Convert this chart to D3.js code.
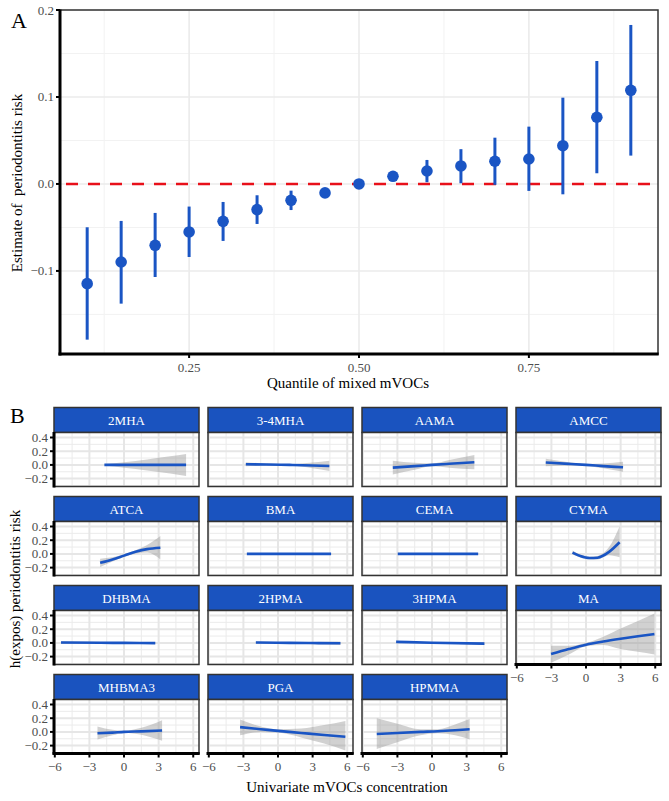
<!DOCTYPE html>
<html><head><meta charset="utf-8">
<script src="https://cdn.jsdelivr.net/npm/d3@7"></script>
<style>
body{margin:0;background:#fff;}
svg{display:block;font-family:"Liberation Serif","Times New Roman",serif;}
</style></head>
<body><svg id="chart" width="669" height="801"></svg>
<script>
// ---------- Panel A data ----------
const quantiles = [0.10,0.15,0.20,0.25,0.30,0.35,0.40,0.45,0.50,0.55,0.60,0.65,0.70,0.75,0.80,0.85,0.90];
const estimates = [-0.1146,-0.0897,-0.0705,-0.0552,-0.0430,-0.0295,-0.0188,-0.0103,0.0000,0.0088,0.0149,0.0207,0.0261,0.0287,0.0440,0.0767,0.1077];
const lowerCI   = [-0.1790,-0.1376,-0.1070,-0.0840,-0.0655,-0.0460,-0.0300,-0.0120,-0.0010,0.0070,0.0020,0.0008,-0.0010,-0.0080,-0.0119,0.0123,0.0326];
const upperCI   = [-0.0498,-0.0425,-0.0333,-0.0260,-0.0207,-0.0130,-0.0077,-0.0085,0.0010,0.0106,0.0276,0.0400,0.0532,0.0659,0.0992,0.1414,0.1828];
const xTicksA = [0.25,0.50,0.75];
const xTickLabelsA = ["0.25","0.50","0.75"];
const yTicksA = [-0.1,0.0,0.1,0.2];
const yTickLabelsA = ["\u22120.1","0.0","0.1","0.2"];

// ---------- Panel B data ----------
const facetNames = ["2MHA","3-4MHA","AAMA","AMCC","ATCA","BMA","CEMA","CYMA","DHBMA","2HPMA","3HPMA","MA","MHBMA3","PGA","HPMMA"];
const facetX = [
  [-1.70,0,2,4,5.38],
  [-2.79,-1,1,3,4.45],
  [-3.40,-1.5,0,1.5,3.67],
  [-3.49,-1.5,0,1.5,3.21],
  [-2.07,-1,0,1,2,3.15],
  [-2.70,4.60],
  [-2.97,4.00],
  [-1.17,-0.5,0.3,1,2,2.91],
  [-5.46,-2,0,2.71],
  [-1.92,1,3,5.41],
  [-3.11,0,4.54],
  [-3.03,-1.5,0,1.5,3,4.5,5.93],
  [-2.30,-1,0,1.5,3.30],
  [-3.29,-1.5,0,2,4,5.84],
  [-4.79,-3,-1,0.5,2,3.26]
];
const facetFit = [
  [0,0,0,0,0],
  [0.010,0.005,0,-0.008,-0.015],
  [-0.040,-0.018,0,0.017,0.040],
  [0.035,0.015,0,-0.017,-0.035],
  [-0.130,-0.080,-0.025,0.030,0.070,0.090],
  [0,0],
  [0,0],
  [0.020,-0.030,-0.060,-0.055,0.030,0.170],
  [0.005,0.002,0,-0.003],
  [0.005,0,-0.002,-0.006],
  [0.015,0.003,-0.010],
  [-0.163,-0.090,-0.026,0.020,0.060,0.097,0.128],
  [-0.020,-0.010,0,0.008,0.020],
  [0.070,0.040,0.015,-0.015,-0.045,-0.070],
  [-0.030,-0.015,0,0.010,0.025,0.040]
];
const facetLo = [
  [-0.010,-0.040,-0.080,-0.125,-0.160],
  [-0.020,-0.010,-0.010,-0.050,-0.090],
  [-0.140,-0.070,-0.020,-0.040,-0.065],
  [-0.020,-0.010,-0.015,-0.050,-0.100],
  [-0.190,-0.110,-0.045,0.005,0.020,-0.080],
  [-0.008,-0.008],
  [-0.008,-0.008],
  [-0.010,-0.050,-0.080,-0.080,-0.020,-0.050],
  [-0.015,-0.010,-0.010,-0.015],
  [-0.010,-0.010,-0.020,-0.030],
  [0.000,-0.005,-0.030],
  [-0.290,-0.170,-0.050,-0.030,-0.090,-0.130,-0.170],
  [-0.110,-0.050,-0.015,-0.040,-0.130],
  [-0.050,0.000,-0.010,-0.080,-0.170,-0.270],
  [-0.250,-0.150,-0.050,-0.020,-0.050,-0.110]
];
const facetHi = [
  [0.010,0.040,0.080,0.125,0.160],
  [0.040,0.020,0.010,0.035,0.060],
  [0.060,0.030,0.020,0.070,0.145],
  [0.090,0.040,0.015,0.020,0.045],
  [-0.070,-0.050,-0.005,0.055,0.130,0.260],
  [0.008,0.008],
  [0.008,0.008],
  [0.050,-0.010,-0.040,-0.030,0.100,0.400],
  [0.025,0.012,0.010,0.010],
  [0.020,0.010,0.015,0.020],
  [0.030,0.010,0.010],
  [-0.040,-0.040,0.000,0.090,0.210,0.320,0.430],
  [0.080,0.030,0.015,0.060,0.170],
  [0.180,0.080,0.040,0.050,0.100,0.160],
  [0.200,0.120,0.040,0.040,0.110,0.190]
];
const xTicksB = [-6,-3,0,3,6];
const xTickLabelsB = ["\u22126","\u22123","0","3","6"];
const yTicksB = [-0.2,0.0,0.2,0.4];
const yTickLabelsB = ["\u22120.2","0.0","0.2","0.4"];

// ---------- styles ----------
const BLUE = "#1a55c4";
const STRIP = "#1a53bf";
const GRID = "#ebebeb";
const TICKTXT = "#4d4d4d";

const svg = d3.select("#chart");

// ================= Panel A =================
const A = {l:60, r:658, t:10, b:354};
const xA = d3.scaleLinear().domain([0.06,0.94]).range([A.l,A.r]);
const yA = d3.scaleLinear().domain([-0.1955,0.2]).range([A.b,A.t]);
const gA = svg.append("g");

// minor grid
const xMinorA = [0.125,0.375,0.625,0.875];
const yMinorA = [-0.15,-0.05,0.05,0.15];
gA.selectAll(".vxm").data(xMinorA).join("line")
  .attr("x1",d=>xA(d)).attr("x2",d=>xA(d)).attr("y1",A.t).attr("y2",A.b)
  .attr("stroke","#f2f2f2").attr("stroke-width",1);
gA.selectAll(".hym").data(yMinorA).join("line")
  .attr("x1",A.l).attr("x2",A.r).attr("y1",d=>yA(d)).attr("y2",d=>yA(d))
  .attr("stroke","#f2f2f2").attr("stroke-width",1);
gA.selectAll(".vx").data(xTicksA).join("line")
  .attr("x1",d=>xA(d)).attr("x2",d=>xA(d)).attr("y1",A.t).attr("y2",A.b)
  .attr("stroke",GRID).attr("stroke-width",1.6);
gA.selectAll(".hy").data(yTicksA).join("line")
  .attr("x1",A.l).attr("x2",A.r).attr("y1",d=>yA(d)).attr("y2",d=>yA(d))
  .attr("stroke",GRID).attr("stroke-width",1.6);

// reference line
gA.append("line").attr("x1",A.l).attr("x2",A.r).attr("y1",yA(0)).attr("y2",yA(0))
  .attr("stroke","#e8101a").attr("stroke-width",2.6).attr("stroke-dasharray","12,10")
  .attr("stroke-dashoffset",-6);

// error bars + points
gA.selectAll(".err").data(quantiles).join("line")
  .attr("x1",d=>xA(d)).attr("x2",d=>xA(d))
  .attr("y1",(d,i)=>yA(lowerCI[i])).attr("y2",(d,i)=>yA(upperCI[i]))
  .attr("stroke",BLUE).attr("stroke-width",3);
gA.selectAll(".pt").data(quantiles).join("circle")
  .attr("cx",d=>xA(d)).attr("cy",(d,i)=>yA(estimates[i])).attr("r",5.8)
  .attr("fill",BLUE);

// border
gA.append("rect").attr("x",A.l).attr("y",A.t).attr("width",A.r-A.l).attr("height",A.b-A.t)
  .attr("fill","none").attr("stroke","#333").attr("stroke-width",1.5);
// axis lines
gA.append("line").attr("x1",A.l).attr("x2",A.l).attr("y1",A.t-0.5).attr("y2",A.b+1.5).attr("stroke","#000").attr("stroke-width",3);
gA.append("line").attr("x1",A.l-1.5).attr("x2",A.r+0.7).attr("y1",A.b).attr("y2",A.b).attr("stroke","#000").attr("stroke-width",3);

// ticks
gA.selectAll(".yt").data(yTicksA).join("line")
  .attr("x1",A.l-4).attr("x2",A.l).attr("y1",d=>yA(d)).attr("y2",d=>yA(d)).attr("stroke","#000").attr("stroke-width",2);
gA.selectAll(".ytl").data(yTicksA).join("text")
  .attr("x",A.l-6).attr("y",d=>yA(d)+4.5).attr("text-anchor","end")
  .attr("font-size",13).attr("fill",TICKTXT).text((d,i)=>yTickLabelsA[i]);
gA.selectAll(".xt").data(xTicksA).join("line")
  .attr("x1",d=>xA(d)).attr("x2",d=>xA(d)).attr("y1",A.b).attr("y2",A.b+4).attr("stroke","#000").attr("stroke-width",2);
gA.selectAll(".xtl").data(xTicksA).join("text")
  .attr("x",d=>xA(d)).attr("y",A.b+18).attr("text-anchor","middle")
  .attr("font-size",13).attr("fill",TICKTXT).text((d,i)=>xTickLabelsA[i]);

// titles
svg.append("text").attr("x",348).attr("y",388).attr("text-anchor","middle")
  .attr("font-size",15).attr("fill","#000").text("Quantile of mixed mVOCs");
svg.append("text").attr("transform","translate(22,183) rotate(-90)").attr("text-anchor","middle")
  .attr("font-size",15).attr("fill","#000").attr("xml:space","preserve").style("white-space","pre")
  .text("Estimate of  periodontitis risk");
svg.append("text").attr("x",11).attr("y",28).attr("font-size",22).attr("fill","#000").text("A");
svg.append("text").attr("x",10).attr("y",423).attr("font-size",22).attr("fill","#000").text("B");

// ================= Panel B =================
const colLeft = [54,208,362,516];
const rowTop = [407.5,496.5,585.5,674.5];
const PW = 145, SH = 25, PH = 54;
const xB = d3.scaleLinear().domain([-6.07,6.5]).range([0,PW]);
const yB = d3.scaleLinear().domain([-0.315,0.473]).range([PH,0]);
const xMinorB = [-4.5,-1.5,1.5,4.5];
const yMinorB = [-0.3,-0.1,0.1,0.3];

const defs = svg.append("defs");
defs.append("clipPath").attr("id","pclip").append("rect").attr("x",0).attr("y",0).attr("width",PW).attr("height",PH);

const area = d3.area().x(d=>xB(d.x)).y0(d=>yB(d.lo)).y1(d=>yB(d.hi)).curve(d3.curveMonotoneX);
const line = d3.line().x(d=>xB(d.x)).y(d=>yB(d.y)).curve(d3.curveMonotoneX);

facetNames.forEach((name,i)=>{
  const col = i%4, row = Math.floor(i/4);
  const g = svg.append("g").attr("transform",`translate(${colLeft[col]},${rowTop[row]})`);
  // strip
  g.append("rect").attr("x",0).attr("y",0).attr("width",PW).attr("height",SH)
    .attr("fill",STRIP).attr("stroke","#333").attr("stroke-width",1.5);
  g.append("text").attr("x",PW/2).attr("y",SH/2+4.5).attr("text-anchor","middle")
    .attr("font-size",13).attr("fill","#fff").text(name);
  const p = g.append("g").attr("transform",`translate(0,${SH})`);
  p.append("rect").attr("width",PW).attr("height",PH).attr("fill","#fff");
  p.selectAll(".vm").data(xMinorB).join("line")
    .attr("x1",d=>xB(d)).attr("x2",d=>xB(d)).attr("y1",0).attr("y2",PH).attr("stroke",GRID).attr("stroke-width",1);
  p.selectAll(".hm").data(yMinorB).join("line")
    .attr("x1",0).attr("x2",PW).attr("y1",d=>yB(d)).attr("y2",d=>yB(d)).attr("stroke",GRID).attr("stroke-width",1);
  p.selectAll(".v").data(xTicksB).join("line")
    .attr("x1",d=>xB(d)).attr("x2",d=>xB(d)).attr("y1",0).attr("y2",PH).attr("stroke","#e6e6e6").attr("stroke-width",2);
  p.selectAll(".h").data(yTicksB).join("line")
    .attr("x1",0).attr("x2",PW).attr("y1",d=>yB(d)).attr("y2",d=>yB(d)).attr("stroke","#e6e6e6").attr("stroke-width",2);
  const pts = facetX[i].map((x,k)=>({x:x,y:facetFit[i][k],lo:facetLo[i][k],hi:facetHi[i][k]}));
  const c = p.append("g").attr("clip-path","url(#pclip)");
  c.append("path").attr("d",area(pts)).attr("fill","#999").attr("fill-opacity",0.45);
  c.append("path").attr("d",line(pts)).attr("fill","none").attr("stroke",BLUE).attr("stroke-width",2.6);
  p.append("rect").attr("width",PW).attr("height",PH).attr("fill","none").attr("stroke","#333").attr("stroke-width",1.5);

  // y axis on first column
  if(col===0){
    p.append("line").attr("x1",0).attr("x2",0).attr("y1",-0.5).attr("y2",PH+1).attr("stroke","#000").attr("stroke-width",3);
    p.selectAll(".yt").data(yTicksB).join("line")
      .attr("x1",-4).attr("x2",0).attr("y1",d=>yB(d)).attr("y2",d=>yB(d)).attr("stroke","#000").attr("stroke-width",2);
    p.selectAll(".ytl").data(yTicksB).join("text")
      .attr("x",-6).attr("y",d=>yB(d)+4.5).attr("text-anchor","end")
      .attr("font-size",13).attr("fill",TICKTXT).text((d,k)=>yTickLabelsB[k]);
  }
  // x axis on last panel of each column
  const isBottom = (i+4) >= facetNames.length;
  if(isBottom){
    p.append("line").attr("x1",-1.5).attr("x2",PW+0.7).attr("y1",PH).attr("y2",PH).attr("stroke","#000").attr("stroke-width",3);
    p.selectAll(".xt").data(xTicksB).join("line")
      .attr("x1",d=>xB(d)).attr("x2",d=>xB(d)).attr("y1",PH).attr("y2",PH+4).attr("stroke","#000").attr("stroke-width",2);
    p.selectAll(".xtl").data(xTicksB).join("text")
      .attr("x",d=>xB(d)).attr("y",PH+17).attr("text-anchor","middle")
      .attr("font-size",13).attr("fill",TICKTXT).text((d,k)=>xTickLabelsB[k]);
  }
});

svg.append("text").attr("x",347).attr("y",792).attr("text-anchor","middle")
  .attr("font-size",15).attr("fill","#000").text("Univariate mVOCs concentration");
svg.append("text").attr("transform","translate(20,589) rotate(-90)").attr("text-anchor","middle")
  .attr("font-size",15).attr("fill","#000").text("h(expos) periodontitis risk");
</script>
</body></html>
